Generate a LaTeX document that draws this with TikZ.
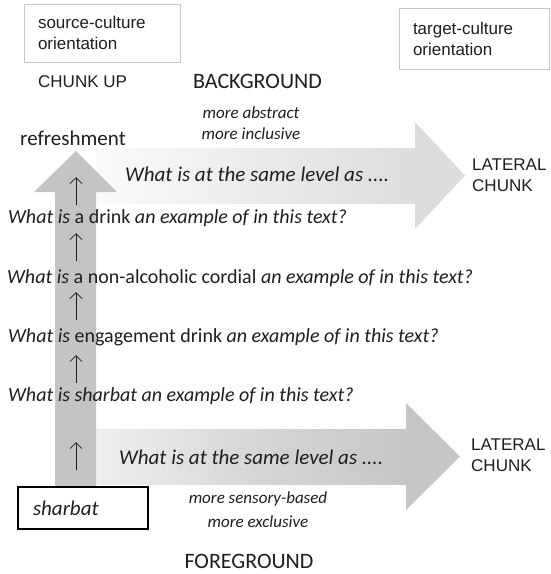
\documentclass[tikz,border=0pt]{standalone}
\usepackage{fontspec}
\setmainfont{Carlito}
\newfontfamily\arial{Liberation Sans}
\usepackage{xcolor}
\usepackage{tikz}
\usetikzlibrary{arrows.meta,positioning}
\definecolor{inkc}{HTML}{1E1E1E}
\definecolor{shaftc}{HTML}{C4C4C4}
\definecolor{hiup}{HTML}{FAFAFA}
\definecolor{loup}{HTML}{DCDCDC}
\definecolor{hidown}{HTML}{EFEFEF}
\definecolor{lodown}{HTML}{C6C6C6}
\definecolor{framec}{HTML}{C8C8C8}
\tikzset{
  q/.style={anchor=west,inner sep=0pt,text=inkc,font=\fontsize{20}{24}\selectfont},
  lab/.style={anchor=west,inner sep=0pt,align=left,text=inkc,font=\arial\fontsize{17}{21.5}\selectfont},
  note/.style={inner sep=0pt,align=center,text=inkc,font=\fontsize{17}{21}\selectfont\itshape},
  big/.style={inner sep=0pt,text=inkc,font=\fontsize{22}{24}\selectfont},
  cbox/.style={draw=framec,thin,align=left,inner xsep=14pt,text=inkc,font=\arial\fontsize{17}{21}\selectfont},
  up/.style={-{Straight Barb[length=6pt,width=12pt]},line width=0.8pt,inkc}
}
\begin{document}
\begin{tikzpicture}[x=1pt,y=-1pt]
\useasboundingbox (0,0) rectangle (550,574);
% lateral arrows
\shade[left color=hiup,right color=loup] (96,148) rectangle (415,203);
\fill[loup] (415,122) -- (465,175.5) -- (415,229) -- cycle;
\shade[left color=hidown,right color=lodown,middle color=lodown!60!hidown] (96,429) rectangle (406,484);
\fill[lodown] (406,403) -- (460,456.5) -- (406,510) -- cycle;
% chunk up arrow
\fill[shaftc] (55,487) -- (55,192) -- (34,192) -- (76,151) -- (117,192) -- (96,192) -- (96,487) -- cycle;
% orientations
\node[cbox,minimum width=156pt,minimum height=58pt,text width=128pt] (src) at (102,33) {source-culture\\orientation};
\node[cbox,minimum width=150pt,minimum height=61pt,text width=122pt] (tgt) at (474,38.5) {target-culture\\orientation};
\node[lab] (cup) at (38,82) {CHUNK UP};
\node[big] (bg) at (257.5,81) {BACKGROUND};
\node[note] (abs) at (251,123.5) {more abstract\\more inclusive};
\node[big,font=\fontsize{21}{24}\selectfont,anchor=west] (refr) at (20,138) {refreshment};
\node[q,font=\fontsize{21}{24}\selectfont\itshape] (lat1) at (125,174) {What is at the same level as ....};
\node[lab] (lc1) at (472,175) {LATERAL\\CHUNK};
% questions
\node[q] (q1) at (8,218) {\textit{What is} a drink \textit{an example of in this text?}};
\node[q] (q2) at (7,278) {\textit{What is} a non-alcoholic cordial \textit{an example of in this text?}};
\node[q] (q3) at (8,337) {\textit{What is} engagement drink \textit{an example of in this text?}};
\node[q] (q4) at (8,396) {\textit{What is sharbat an example of in this text?}};
\node[q,font=\fontsize{21}{24}\selectfont\itshape] (lat2) at (119,457) {What is at the same level as ....};
\node[lab] (lc2) at (471,455) {LATERAL\\CHUNK};
\node[draw=black,line width=1.1pt,minimum width=130pt,minimum height=42pt,text width=100pt,inner xsep=15pt,align=left,text=inkc,font=\fontsize{21}{24}\selectfont\itshape] (sharbat) at (83,508) {sharbat};
\node[note,font=\fontsize{17}{24}\selectfont\itshape] (sens) at (258,510) {more sensory-based\\more exclusive};
\node[big] (fg) at (249,561) {FOREGROUND};
% small arrows
\foreach \i/\a/\b in {1/205/177,2/261/233,3/320/292,4/383/355,5/470/442}{
  \coordinate (s\i) at (76,\a);
  \coordinate (e\i) at (76,\b);
  \draw[up] (s\i) -- (e\i);
}
\end{tikzpicture}
\end{document}
